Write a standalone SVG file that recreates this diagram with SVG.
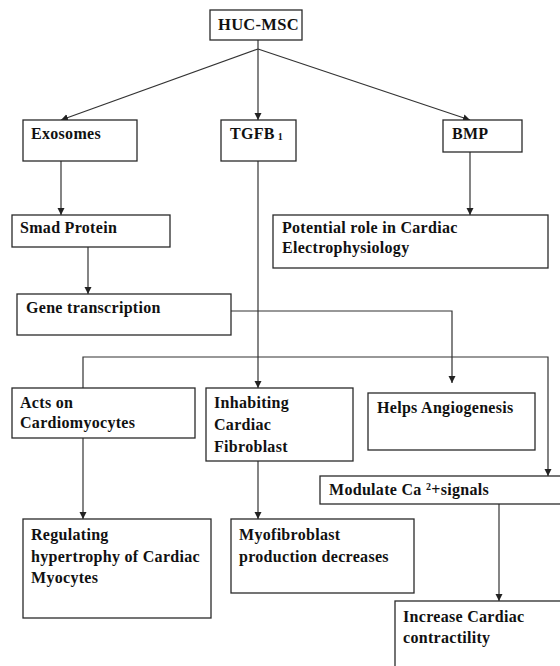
<svg xmlns="http://www.w3.org/2000/svg" width="560" height="666" viewBox="0 0 560 666">
<style>
.box{fill:#fff;stroke:#2a2a2a;stroke-width:1.3}
text{font-family:"Liberation Serif","Times New Roman",serif;font-weight:bold;font-size:16px;letter-spacing:0.3px;fill:#111}
.c{fill:none;stroke:#333;stroke-width:1.2}
</style>
<defs>
<marker id="ah" markerWidth="8" markerHeight="8" refX="7" refY="4" orient="auto" markerUnits="userSpaceOnUse">
<path d="M0,0.5 L7,4 L0,7.5 Z" fill="#222"/>
</marker>
</defs>
<rect width="560" height="666" fill="#fff"/>
<g id="connectors">
<path class="c" d="M258,40 V49"/>
<path class="c" d="M258,49 L61,120" marker-end="url(#ah)"/>
<path class="c" d="M258,49 V120" marker-end="url(#ah)"/>
<path class="c" d="M258,49 L470,120" marker-end="url(#ah)"/>
<path class="c" d="M61,161 V215" marker-end="url(#ah)"/>
<path class="c" d="M470,152 V215" marker-end="url(#ah)"/>
<path class="c" d="M88,247 V294" marker-end="url(#ah)"/>
<path class="c" d="M258,161 V388" marker-end="url(#ah)"/>
<path class="c" d="M231,311 H452 V383" marker-end="url(#ah)"/>
<path class="c" d="M83,388 V357 H548 V476" marker-end="url(#ah)"/>
<path class="c" d="M83,438 V519" marker-end="url(#ah)"/>
<path class="c" d="M258,461 V519" marker-end="url(#ah)"/>
<path class="c" d="M499,504 V601" marker-end="url(#ah)"/>
</g>
<g id="huc-msc"><rect class="box" x="210" y="10" width="92" height="30"/><text x="218" y="30" style="font-size:16.5px">HUC-MSC</text></g>
<g id="exosomes"><rect class="box" x="23" y="120" width="114" height="41"/><text x="31" y="139">Exosomes</text></g>
<g id="tgfb1"><rect class="box" x="221" y="120" width="75" height="41"/><text x="230" y="139">TGFB<tspan font-size="10px" dx="3" dy="1">1</tspan></text></g>
<g id="bmp"><rect class="box" x="443" y="120" width="79" height="32"/><text x="452" y="139">BMP</text></g>
<g id="smad"><rect class="box" x="12" y="215" width="158" height="32"/><text x="20" y="233">Smad Protein</text></g>
<g id="potential"><rect class="box" x="273" y="215" width="275" height="53"/><text x="282" y="233">Potential role in Cardiac</text><text x="282" y="253">Electrophysiology</text></g>
<g id="gene"><rect class="box" x="17" y="294" width="214" height="41"/><text x="26" y="313">Gene transcription</text></g>
<g id="acts"><rect class="box" x="12" y="388" width="183" height="50"/><text x="20" y="408">Acts on</text><text x="20" y="428">Cardiomyocytes</text></g>
<g id="inhabiting"><rect class="box" x="206" y="388" width="147" height="73"/><text x="214" y="408">Inhabiting</text><text x="214" y="430">Cardiac</text><text x="214" y="452">Fibroblast</text></g>
<g id="angiogenesis"><rect class="box" x="368" y="393" width="167" height="57"/><text x="377" y="413">Helps Angiogenesis</text></g>
<g id="modulate"><rect class="box" x="320" y="476" width="250" height="28"/><text x="329" y="495">Modulate Ca <tspan font-size="10px" dy="-5">2</tspan><tspan dy="5">+signals</tspan></text></g>
<g id="regulating"><rect class="box" x="23" y="519" width="188" height="99"/><text x="31" y="540">Regulating</text><text x="31" y="562">hypertrophy of Cardiac</text><text x="31" y="583">Myocytes</text></g>
<g id="myofibroblast"><rect class="box" x="231" y="519" width="183" height="74"/><text x="239" y="540">Myofibroblast</text><text x="239" y="562">production decreases</text></g>
<g id="increase"><rect class="box" x="395" y="601" width="175" height="75"/><text x="403" y="622">Increase Cardiac</text><text x="403" y="643">contractility</text></g>
</svg>
